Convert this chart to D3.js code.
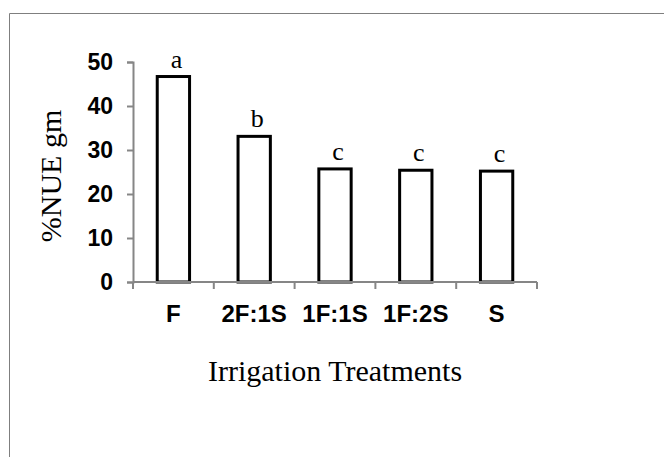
<!DOCTYPE html>
<html>
<head>
<meta charset="utf-8">
<script src="https://cdn.jsdelivr.net/npm/d3@7"></script>
<style>
  body { margin: 0; background: #fff; }
  svg { display: block; }
</style>
</head>
<body>
<div id="chart"></div>
<script>
const treatments = ["F", "2F:1S", "1F:1S", "1F:2S", "S"]
const nueValues = [46.7, 33.1, 25.7, 25.4, 25.2]
const groupLetters = ["a", "b", "c", "c", "c"]
const yTicks = [0, 10, 20, 30, 40, 50]

const W = 664, H = 457
const margin = { top: 62, left: 133, right: 127, bottom: 175 }

const svg = d3.select("#chart")
  .append("svg")
    .attr("width", W)
    .attr("height", H)

// outer frame (only top and left edges show)
svg.append("path")
  .attr("d", `M9.5,${H} L9.5,13.5 L${W},13.5`)
  .attr("fill", "none")
  .attr("stroke", "#7f7f7f")
  .attr("stroke-width", 1)

const x = d3.scaleBand()
  .domain(treatments)
  .range([margin.left, W - margin.right])
  .paddingInner(0.6)
  .paddingOuter(0.3)

const y = d3.scaleLinear()
  .domain([0, 50])
  .range([H - margin.bottom, margin.top])

const g = svg.append("g")

// bars
g.selectAll(".bar")
  .data(treatments)
  .enter().append("rect")
    .attr("class", "bar")
    .attr("x", d => x(d))
    .attr("width", x.bandwidth())
    .attr("y", (d, i) => y(nueValues[i]))
    .attr("height", (d, i) => y(0) - y(nueValues[i]))
    .attr("fill", "#fff")
    .attr("stroke", "#000")
    .attr("stroke-width", 3)

// significance letters
g.selectAll(".letter")
  .data(treatments)
  .enter().append("text")
    .attr("class", "letter")
    .attr("x", d => x(d) + x.bandwidth() / 2 + 3)
    .attr("y", (d, i) => y(nueValues[i]) - 9)
    .attr("text-anchor", "middle")
    .style("font-family", "'Liberation Serif', 'Times New Roman', serif")
    .style("font-size", "26px")
    .text((d, i) => groupLetters[i])

const axisColor = "#868686"

// y axis
const yAxis = svg.append("g")
  .attr("transform", `translate(${margin.left},0)`)
  .call(d3.axisLeft(y).tickValues(yTicks).tickSize(6).tickPadding(14))
yAxis.select(".domain").attr("stroke", axisColor).attr("stroke-width", 2)
yAxis.selectAll(".tick line").attr("stroke", axisColor).attr("stroke-width", 2)
yAxis.selectAll(".tick text")
  .attr("fill", "#000")
  .style("font-family", "'Liberation Sans', Arial, sans-serif")
  .style("font-weight", "bold")
  .style("font-size", "23px")

// x axis: line with ticks at category boundaries
const step = x.step()
const x0 = margin.left
const bounds = d3.range(treatments.length + 1).map(i => x0 + i * step)
const xAxis = svg.append("g")
xAxis.append("line")
  .attr("x1", x0).attr("x2", W - margin.right)
  .attr("y1", y(0)).attr("y2", y(0))
  .attr("stroke", axisColor).attr("stroke-width", 2)
xAxis.selectAll(".xtick")
  .data(bounds)
  .enter().append("line")
    .attr("x1", d => d).attr("x2", d => d)
    .attr("y1", y(0)).attr("y2", y(0) + 7)
    .attr("stroke", axisColor).attr("stroke-width", 2)
xAxis.selectAll(".xlabel")
  .data(treatments)
  .enter().append("text")
    .attr("x", d => x(d) + x.bandwidth() / 2)
    .attr("y", y(0) + 40)
    .attr("text-anchor", "middle")
    .style("font-family", "'Liberation Sans', Arial, sans-serif")
    .style("font-weight", "bold")
    .style("font-size", "24px")
    .text(d => d)

// axis titles
svg.append("text")
  .attr("x", (margin.left + W - margin.right) / 2)
  .attr("y", 381)
  .attr("text-anchor", "middle")
  .style("font-family", "'Liberation Serif', 'Times New Roman', serif")
  .style("font-size", "30px")
  .text("Irrigation Treatments")

svg.append("text")
  .attr("transform", "translate(61,176) rotate(-90)")
  .attr("text-anchor", "middle")
  .style("font-family", "'Liberation Serif', 'Times New Roman', serif")
  .style("font-size", "30px")
  .text("%NUE gm")
</script>
</body>
</html>
